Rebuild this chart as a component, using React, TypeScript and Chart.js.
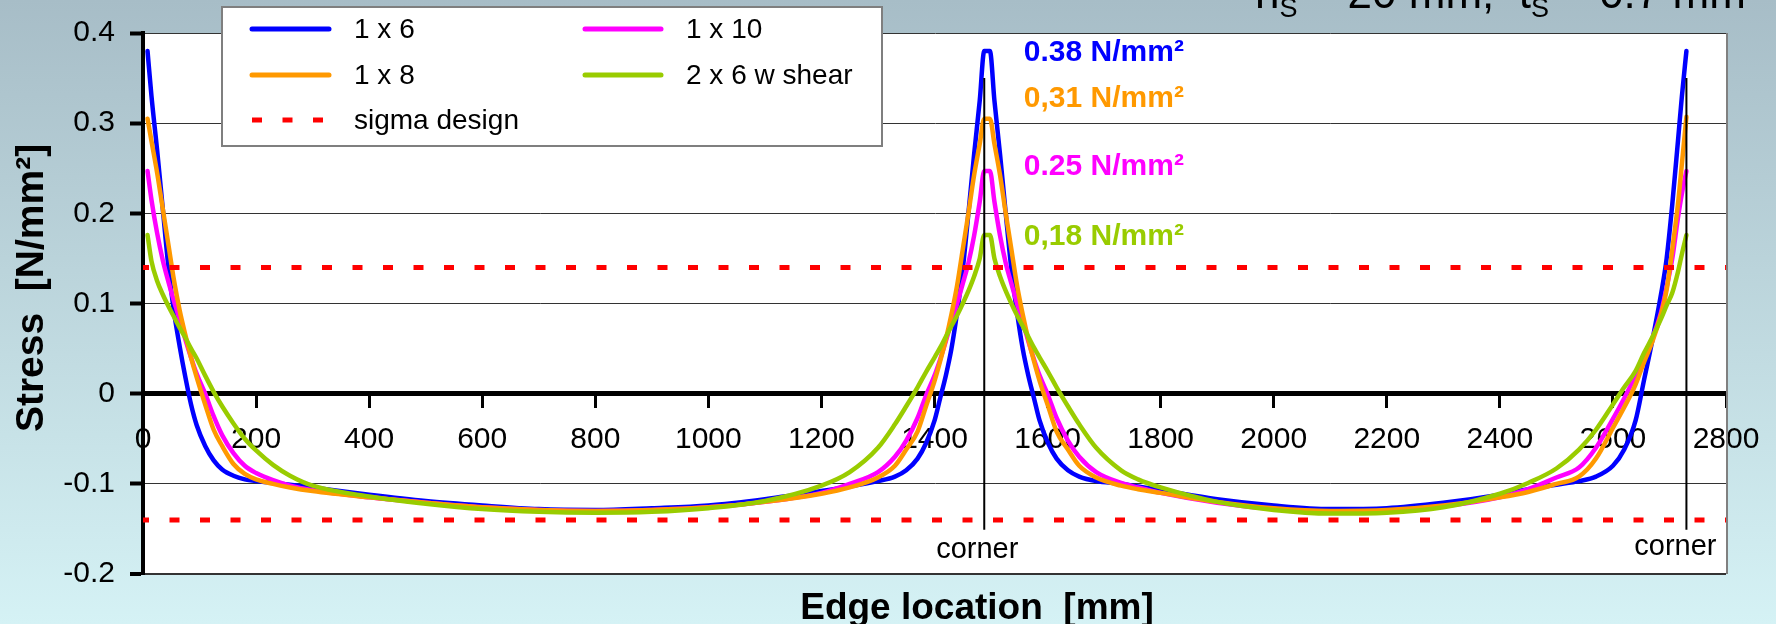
import React, { useEffect, useRef } from "react";
import { Chart, registerables } from "chart.js";

Chart.register(...registerables);

const FONT = "'Liberation Sans', Arial, Helvetica, sans-serif";

// Edge location [mm]
const edgeX = [
  8, 15, 25, 35, 45, 55, 65, 75, 85, 95, 110, 125, 140, 160, 180, 200, 230, 260, 300,
  400, 500, 600, 700, 800, 900, 1000, 1100, 1200, 1250,
  1300, 1330, 1350, 1370, 1385, 1400, 1410, 1420, 1430, 1440, 1450, 1460, 1470, 1480, 1488,
  1498, 1506, 1516, 1526, 1536, 1546, 1556, 1566, 1576, 1586, 1601, 1616, 1636, 1656, 1686,
  1730, 1760, 1800, 1900, 2000, 2100, 2200, 2300, 2400, 2450, 2500,
  2540, 2570, 2600, 2620, 2640, 2655, 2670, 2685, 2695, 2705, 2715, 2722, 2730,
];

// Stress [N/mm²]
const stress1x6 = [
  0.38, 0.33, 0.27, 0.205, 0.14, 0.09, 0.052, 0.018, -0.012, -0.035, -0.058, -0.074, -0.084, -0.091, -0.095, -0.097, -0.099, -0.101, -0.104,
  -0.112, -0.119, -0.124, -0.128, -0.129, -0.127, -0.124, -0.117, -0.108, -0.103,
  -0.097, -0.092, -0.085, -0.072, -0.055, -0.03, -0.005, 0.02, 0.05, 0.09, 0.138, 0.2, 0.265, 0.325, 0.38,
  0.38, 0.325, 0.265, 0.2, 0.138, 0.09, 0.05, 0.02, -0.005, -0.03, -0.055, -0.072, -0.085, -0.092, -0.097,
  -0.1, -0.103, -0.107, -0.117, -0.124, -0.128, -0.127, -0.121, -0.112, -0.106, -0.101,
  -0.097, -0.092, -0.08, -0.062, -0.03, 0.015, 0.06, 0.11, 0.15, 0.21, 0.28, 0.33, 0.38,
];

const stress1x8 = [
  0.305, 0.28, 0.245, 0.205, 0.165, 0.125, 0.092, 0.065, 0.04, 0.018, -0.012, -0.04, -0.058, -0.078, -0.089, -0.095, -0.1, -0.104, -0.108,
  -0.115, -0.121, -0.126, -0.129, -0.13, -0.129, -0.126, -0.12, -0.111, -0.104,
  -0.093, -0.08, -0.062, -0.042, -0.014, 0.014, 0.036, 0.06, 0.088, 0.12, 0.16, 0.2, 0.242, 0.277, 0.305,
  0.305, 0.277, 0.242, 0.2, 0.16, 0.12, 0.088, 0.06, 0.036, 0.014, -0.014, -0.042, -0.062, -0.08, -0.093,
  -0.102, -0.106, -0.11, -0.12, -0.127, -0.13, -0.129, -0.124, -0.115, -0.109, -0.1,
  -0.092, -0.072, -0.038, -0.015, 0.01, 0.035, 0.058, 0.088, 0.115, 0.16, 0.21, 0.255, 0.307,
];

const stress1x10 = [
  0.247, 0.215, 0.178, 0.148, 0.124, 0.102, 0.082, 0.06, 0.04, 0.022, 0.0, -0.025, -0.046, -0.066, -0.08, -0.088, -0.096, -0.102, -0.107,
  -0.115, -0.121, -0.126, -0.129, -0.13, -0.129, -0.126, -0.12, -0.11, -0.1,
  -0.087, -0.07, -0.052, -0.027, -0.002, 0.02, 0.038, 0.058, 0.08, 0.1, 0.122, 0.145, 0.175, 0.213, 0.247,
  0.247, 0.213, 0.175, 0.145, 0.122, 0.1, 0.08, 0.058, 0.038, 0.02, -0.002, -0.027, -0.052, -0.07, -0.087,
  -0.099, -0.104, -0.11, -0.121, -0.128, -0.131, -0.13, -0.125, -0.115, -0.106, -0.093,
  -0.082, -0.06, -0.028, -0.005, 0.02, 0.04, 0.062, 0.09, 0.118, 0.15, 0.195, 0.222, 0.247,
];

const stress2x6Shear = [
  0.176, 0.147, 0.125, 0.11, 0.097, 0.085, 0.073, 0.062, 0.05, 0.039, 0.02, 0.002, -0.014, -0.033, -0.05, -0.063, -0.079, -0.091, -0.102,
  -0.114, -0.122, -0.128, -0.131, -0.132, -0.131, -0.127, -0.119, -0.102, -0.087,
  -0.06, -0.034, -0.014, 0.007, 0.024, 0.04, 0.051, 0.063, 0.075, 0.087, 0.1, 0.114, 0.13, 0.15, 0.176,
  0.176, 0.15, 0.13, 0.114, 0.1, 0.087, 0.075, 0.063, 0.051, 0.04, 0.024, 0.007, -0.014, -0.034, -0.06,
  -0.085, -0.095, -0.104, -0.12, -0.129, -0.133, -0.132, -0.126, -0.111, -0.099, -0.083,
  -0.062, -0.04, -0.012, 0.007, 0.025, 0.045, 0.063, 0.083, 0.098, 0.112, 0.135, 0.155, 0.176,
];

const sigmaDesign = 0.14;
const xMin = 0;
const xMax = 2800;
const xStep = 200;
const yMin = -0.2;
const yMax = 0.4;
const yStep = 0.1;

const cornerX = [1488, 2730];
const cornerTop = 0.35;
const cornerBottom = -0.151;

const peakLabels = ["0.38 N/mm²", "0,31 N/mm²", "0.25 N/mm²", "0,18 N/mm²"];
const peakLabelY = [0.378, 0.327, 0.252, 0.174];
const peakLabelX = 1558;

const BLUE = "#0000ff";
const MAGENTA = "#ff00ff";
const ORANGE = "#ff9900";
const GREEN = "#99cc00";
const RED = "#ff0000";
const peakLabelColors = [BLUE, ORANGE, MAGENTA, GREEN];

const legendItems = [
  { label: "1 x 6", color: BLUE, dashed: false },
  { label: "1 x 10", color: MAGENTA, dashed: false },
  { label: "1 x 8", color: ORANGE, dashed: false },
  { label: "2 x 6 w shear", color: GREEN, dashed: false },
  { label: "sigma design", color: RED, dashed: true },
];

const mk = (ys: number[]) => edgeX.map((x, i) => ({ x, y: ys[i] }));

export default function App() {
  const ref = useRef<HTMLCanvasElement | null>(null);

  useEffect(() => {
    const canvas = ref.current;
    if (!canvas) return;

    const decor = {
      id: "decor",
      beforeDraw(chart: any) {
        const { ctx, chartArea: ca, width, height } = chart;
        ctx.save();
        const g = ctx.createLinearGradient(0, 0, 0, height);
        g.addColorStop(0, "#a7bdc7");
        g.addColorStop(1, "#d5f2f5");
        ctx.fillStyle = g;
        ctx.fillRect(0, 0, width, height);
        ctx.fillStyle = "#ffffff";
        ctx.fillRect(ca.left, ca.top, ca.right - ca.left, ca.bottom - ca.top);
        ctx.restore();
      },
      afterDraw(chart: any) {
        const { ctx, chartArea: ca, scales } = chart;
        const xs = scales.x;
        const ys = scales.y;
        ctx.save();

        // right border of plot area
        ctx.strokeStyle = "#808080";
        ctx.lineWidth = 2;
        ctx.beginPath();
        ctx.moveTo(ca.right + 1, ca.top);
        ctx.lineTo(ca.right + 1, ca.bottom);
        ctx.stroke();

        // header (partly cut off at the top of the picture)
        ctx.fillStyle = "#000";
        ctx.textBaseline = "alphabetic";
        ctx.textAlign = "left";
        let hx = 1255;
        const big = `44px ${FONT}`;
        const sub = `27px ${FONT}`;
        const parts: [string, string, number][] = [
          ["h", big, 8],
          ["S", sub, 17],
          [" = 20 mm;  ", big, 8],
          ["t", big, 8],
          ["S", sub, 17],
          [" = 0.7 mm", big, 8],
        ];
        for (const [t, f, by] of parts) {
          ctx.font = f;
          ctx.fillText(t, hx, by);
          hx += ctx.measureText(t).width;
        }

        // legend
        const lx = 222, ly = 7, lw = 660, lh = 139;
        ctx.fillStyle = "#fff";
        ctx.fillRect(lx, ly, lw, lh);
        ctx.strokeStyle = "#7f7f7f";
        ctx.lineWidth = 2;
        ctx.strokeRect(lx, ly, lw, lh);
        const rowsY = [29, 75, 120];
        const colLine = [[252, 329], [585, 661]];
        const colText = [354, 686];
        ctx.font = `28px ${FONT}`;
        ctx.textBaseline = "middle";
        legendItems.forEach((it, i) => {
          const col = i === 4 ? 0 : i % 2;
          const row = Math.floor(i / 2);
          const y = rowsY[row];
          ctx.strokeStyle = it.color;
          ctx.lineWidth = 5;
          if (it.dashed) {
            ctx.lineCap = "butt";
            ctx.setLineDash([10, 20.5]);
          } else {
            ctx.lineCap = "round";
            ctx.setLineDash([]);
          }
          ctx.beginPath();
          ctx.moveTo(colLine[col][0], y);
          ctx.lineTo(colLine[col][1] + (it.dashed ? 1 : 0), y);
          ctx.stroke();
          ctx.setLineDash([]);
          ctx.fillStyle = "#000";
          ctx.fillText(it.label, colText[col], y + 1);
        });

        // peak annotations
        ctx.font = `bold 30px ${FONT}`;
        ctx.textAlign = "left";
        ctx.textBaseline = "middle";
        peakLabels.forEach((t, i) => {
          ctx.fillStyle = peakLabelColors[i];
          ctx.fillText(t, xs.getPixelForValue(peakLabelX), ys.getPixelForValue(peakLabelY[i]));
        });

        // corner labels
        ctx.font = `29px ${FONT}`;
        ctx.fillStyle = "#000";
        ctx.textAlign = "center";
        ctx.fillText("corner", xs.getPixelForValue(cornerX[0]) - 7, 550);
        ctx.fillText("corner", xs.getPixelForValue(cornerX[1]) - 11, 547);

        // axis titles
        ctx.font = `bold 37px ${FONT}`;
        ctx.textAlign = "center";
        ctx.textBaseline = "alphabetic";
        ctx.fillText("Edge location  [mm]", 977, 619);

        ctx.save();
        ctx.translate(43, 288);
        ctx.rotate(-Math.PI / 2);
        ctx.font = `bold 39px ${FONT}`;
        ctx.fillText("Stress  [N/mm²]", 0, 0);
        ctx.restore();

        ctx.restore();
      },
    };

    const lineDs = (label: string, ys: number[], color: string, order: number) => ({
      label,
      data: mk(ys),
      borderColor: color,
      backgroundColor: color,
      borderWidth: 4.5,
      pointRadius: 0,
      fill: false,
      cubicInterpolationMode: "monotone" as const,
      borderJoinStyle: "round" as const,
      borderCapStyle: "round" as const,
      order,
    });

    const chart = new Chart(canvas, {
      type: "line",
      data: {
        datasets: [
          lineDs("1 x 6", stress1x6, BLUE, 4),
          lineDs("1 x 10", stress1x10, MAGENTA, 3),
          lineDs("1 x 8", stress1x8, ORANGE, 2),
          lineDs("2 x 6 w shear", stress2x6Shear, GREEN, 1),
          {
            label: "sigma design",
            data: [
              { x: xMin, y: sigmaDesign },
              { x: xMax, y: sigmaDesign },
              { x: xMax, y: null },
              { x: xMin, y: -sigmaDesign },
              { x: xMax, y: -sigmaDesign },
            ],
            borderColor: RED,
            borderWidth: 5,
            borderDash: [10, 20.5],
            borderDashOffset: 4,
            pointRadius: 0,
            spanGaps: false,
            tension: 0,
            order: 0,
          },
          {
            label: "corner",
            data: [
              { x: cornerX[0], y: cornerTop },
              { x: cornerX[0], y: cornerBottom },
              { x: cornerX[0], y: null },
              { x: cornerX[1], y: cornerTop },
              { x: cornerX[1], y: cornerBottom },
            ],
            borderColor: "#000",
            borderWidth: 2,
            pointRadius: 0,
            spanGaps: false,
            tension: 0,
            order: -1,
          },
        ] as any,
      },
      options: {
        responsive: false,
        devicePixelRatio: 1,
        animation: false,
        layout: { padding: { left: 0, top: 25, right: 50, bottom: 50 } },
        plugins: {
          legend: { display: false },
          tooltip: { enabled: false },
          title: { display: false },
        },
        scales: {
          x: {
            type: "linear",
            min: xMin,
            max: xMax,
            position: { y: 0 } as any,
            ticks: {
              stepSize: xStep,
              autoSkip: false,
              maxRotation: 0,
              padding: 16,
              color: "#000",
              font: { family: FONT, size: 30 },
              callback: (v: any) => String(v),
            },
            grid: {
              drawOnChartArea: false,
              drawTicks: true,
              tickLength: 12,
              tickWidth: 3,
              tickColor: "#000",
            },
            border: { display: true, color: "#000", width: 5 },
          },
          y: {
            type: "linear",
            min: yMin,
            max: yMax,
            position: "left",
            afterFit: (s: any) => {
              s.width = 143;
            },
            ticks: {
              stepSize: yStep,
              padding: 15,
              color: "#000",
              font: { family: FONT, size: 30 },
              callback: (v: any) => String(Math.round(Number(v) * 10) / 10),
            },
            grid: {
              color: "#333333",
              lineWidth: (c: any) => (c.tick && Math.abs(c.tick.value - yMin) < 1e-6 ? 2 : 1),
              drawTicks: true,
              tickLength: 13,
              tickWidth: 4,
              tickColor: "#000",
            },
            border: { display: true, color: "#000", width: 4 },
          },
        },
      },
      plugins: [decor],
    });

    return () => chart.destroy();
  }, []);

  return (
    <div style={{ position: "absolute", left: 0, top: 0, width: 1776, height: 624 }}>
      <canvas ref={ref} width={1776} height={624} style={{ display: "block", width: 1776, height: 624 }} />
    </div>
  );
}
